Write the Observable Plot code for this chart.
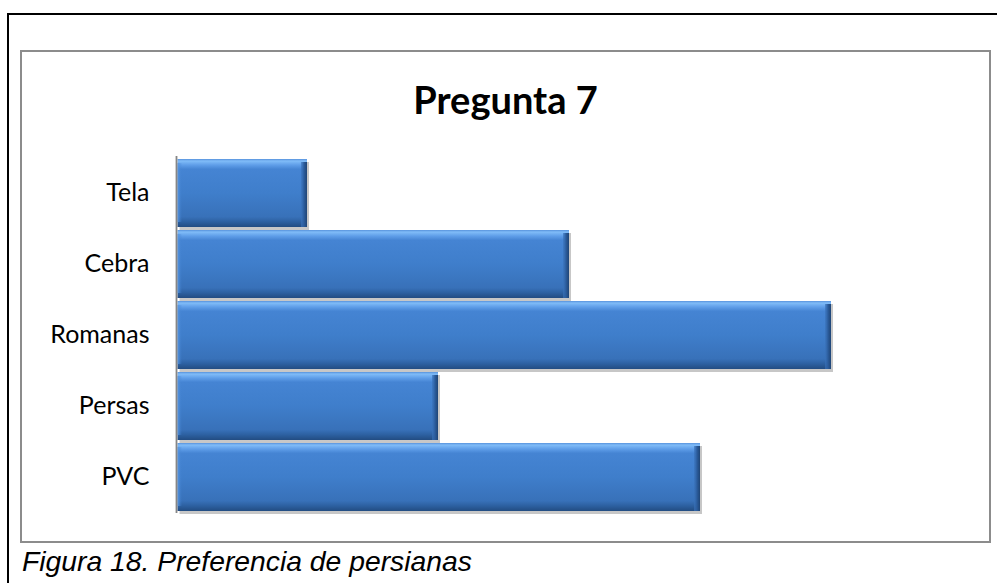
<!DOCTYPE html>
<html>
<head>
<meta charset="utf-8">
<script src="https://cdn.jsdelivr.net/npm/d3@7"></script>
<script src="https://cdn.jsdelivr.net/npm/@observablehq/plot@0.6"></script>
<style>
  html, body { margin: 0; padding: 0; background: #fff; overflow: hidden; width: 997px; height: 583px; }
  #outer { position: absolute; left: 7px; top: 13px; width: 1200px; height: 800px; border: 2.5px solid #000; box-sizing: border-box; }
  #inner { position: absolute; left: 20px; top: 50px; width: 971px; height: 493px; border: 2.5px solid #8c8c8c; box-sizing: border-box; }
  #title { position: absolute; left: 20px; width: 971px; top: 80px; text-align: center; font: bold 38px/38px Lato, sans-serif; color: #000; }
  #caption { position: absolute; left: 22px; top: 547px; font: italic 28.3px/28px "Liberation Sans", Arial, sans-serif; color: #000; white-space: nowrap; }
  #chart svg { position: absolute; left: 0; top: 0; }
</style>
</head>
<body>
<div id="outer"></div>
<div id="inner"></div>
<div id="chart"></div>
<div id="title">Pregunta 7</div>
<div id="caption">Figura 18. Preferencia de persianas</div>
<script>
const categories = ["Tela", "Cebra", "Romanas", "Persas", "PVC"];
const values = [1, 3, 5, 2, 4];
const xDomain = [0, 5];

const data = categories.map((c, i) => ({category: c, value: values[i]}));

function defs() {
  const ns = "http://www.w3.org/2000/svg";
  const d = document.createElementNS(ns, "defs");
  d.innerHTML = `
    <linearGradient id="vgrad" x1="0" y1="0" x2="0" y2="1">
      <stop offset="0" stop-color="#5792dc"/>
      <stop offset="0.03" stop-color="#80bcf8"/>
      <stop offset="0.09" stop-color="#5e9de8"/>
      <stop offset="0.15" stop-color="#4584d3"/>
      <stop offset="0.5" stop-color="#3f7ecb"/>
      <stop offset="0.85" stop-color="#3871b9"/>
      <stop offset="0.92" stop-color="#2d61a2"/>
      <stop offset="1" stop-color="#224c82"/>
    </linearGradient>
    <linearGradient id="rgrad" x1="0" y1="0" x2="1" y2="0">
      <stop offset="0" stop-color="#3a73bb" stop-opacity="0.6"/>
      <stop offset="0.5" stop-color="#2b5c9c"/>
      <stop offset="1" stop-color="#1f4576"/>
    </linearGradient>
    <linearGradient id="lgrad" x1="0" y1="0" x2="1" y2="0">
      <stop offset="0" stop-color="#5a98e2" stop-opacity="0.9"/>
      <stop offset="1" stop-color="#4383d2" stop-opacity="0"/>
    </linearGradient>`;
  return d;
}

const chart = Plot.plot({
  width: 997,
  height: 583,
  marginLeft: 176,
  marginRight: 166,
  marginTop: 156,
  marginBottom: 70,
  style: {background: "transparent", fontFamily: "Lato, sans-serif"},
  x: {domain: xDomain, axis: null},
  y: {domain: categories, padding: 0, axis: null},
  marks: [
    defs,
    Plot.barX(data, {x: "value", y: "category", fill: "#000", fillOpacity: 0.22, dx: 2, dy: 3, insetLeft: 1.5, insetTop: 2, insetBottom: 1}),
    Plot.barX(data, {x: "value", y: "category", fill: "url(#vgrad)", insetLeft: 1.5, insetTop: 2, insetBottom: 1}),
    Plot.barX(data, {x1: 0, x2: 0, y: "category", fill: "url(#lgrad)", insetLeft: 1.5, insetRight: -6, insetTop: 6, insetBottom: 6}),
    Plot.barX(data, {x1: "value", x2: "value", y: "category", fill: "url(#rgrad)", insetLeft: -6, insetTop: 5, insetBottom: 1}),
    Plot.ruleX([0], {stroke: "#868686", strokeWidth: 1.8}),
    Plot.axisY({tickSize: 0, tickPadding: 27, fontSize: 25, fill: "#000", label: null})
  ]
});
document.getElementById("chart").appendChild(chart);
</script>
</body>
</html>
